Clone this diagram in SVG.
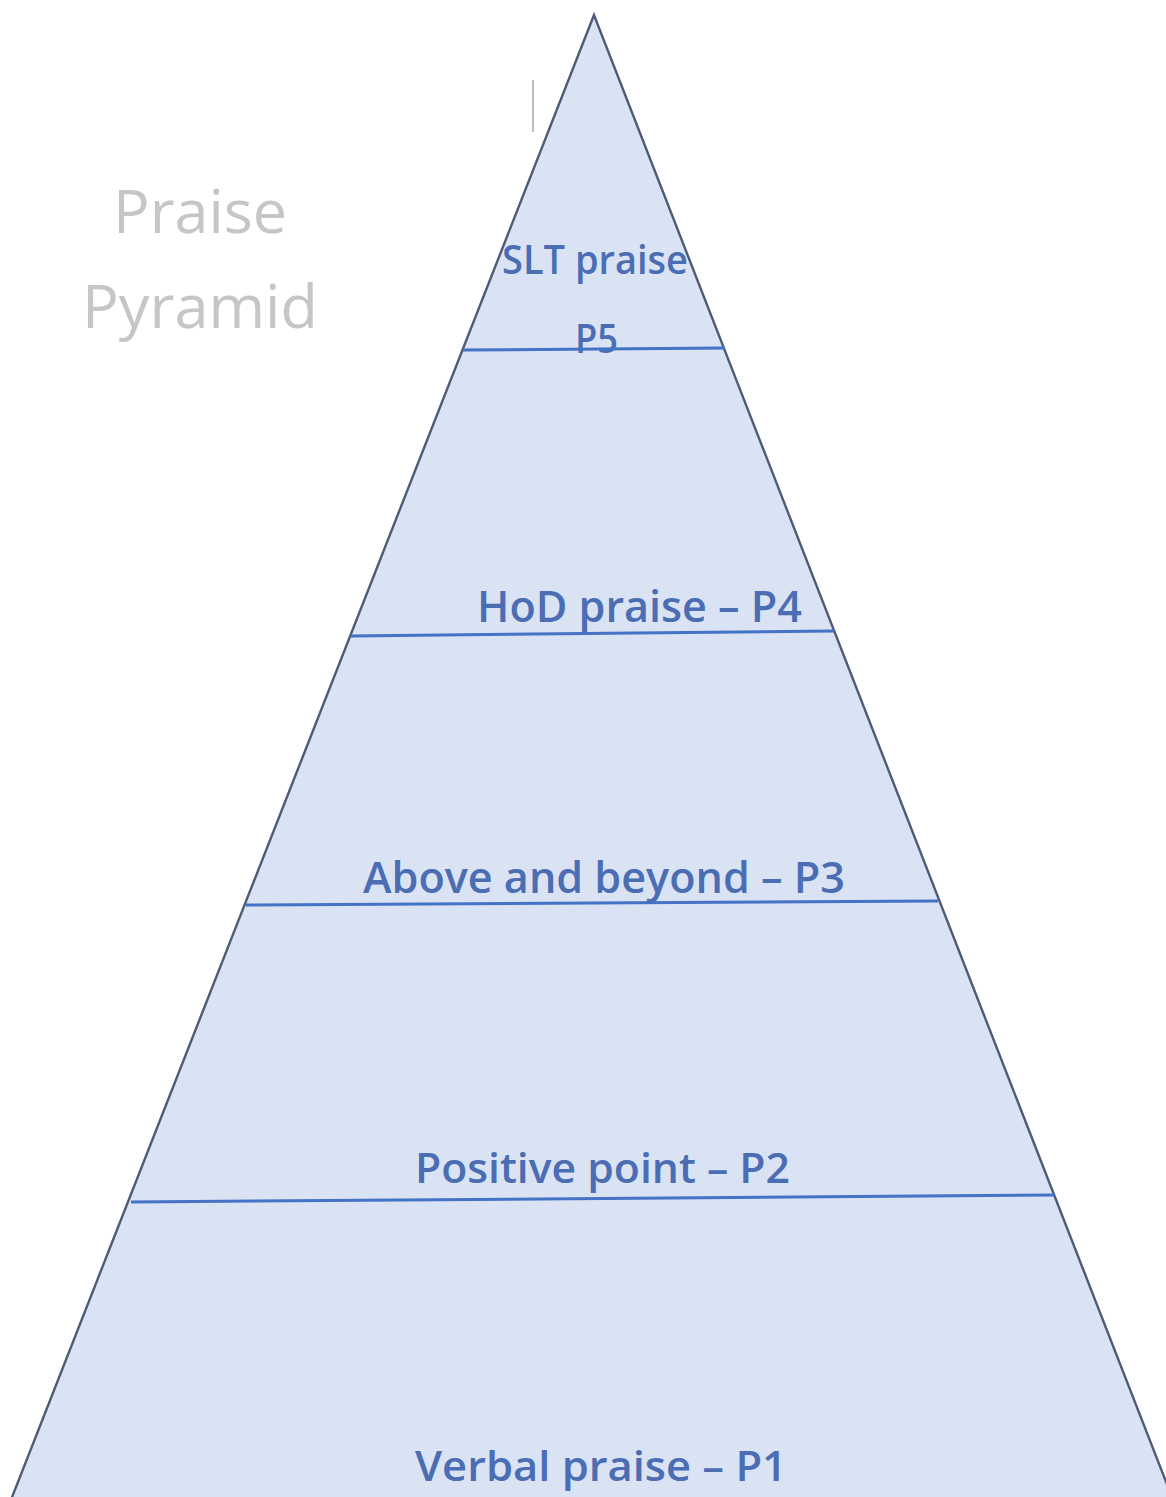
<svg xmlns="http://www.w3.org/2000/svg" width="1166" height="1497" viewBox="0 0 1166 1497">
<style>
.lbl{font-family:"Open Sans","Noto Sans",sans-serif;font-weight:600;fill:#4a6db3;}
.title{font-family:"Open Sans","Noto Sans",sans-serif;font-weight:400;fill:#c6c6c6;font-size:60px;}
.tier{stroke:#4472c4;stroke-width:3;fill:none;}
</style>
<rect width="1166" height="1497" fill="#ffffff"/>
<g id="title">
<text class="title" x="113" y="233" textLength="174" lengthAdjust="spacingAndGlyphs">Praise</text>
<text class="title" x="82" y="328" textLength="236" lengthAdjust="spacingAndGlyphs">Pyramid</text>
</g>
<line x1="533" y1="80" x2="533" y2="132" stroke="#a8a8a8" stroke-width="1.5"/>
<g id="pyramid">
<polygon points="594,15 7,1510 1177,1510" fill="#dae3f3" stroke="#4d5a78" stroke-width="2.4"/>
</g>
<g id="p5">
<text class="lbl" x="502" y="274" font-size="40" textLength="186" lengthAdjust="spacingAndGlyphs">SLT praise</text>
<text class="lbl" x="575" y="353" font-size="40" textLength="43" lengthAdjust="spacingAndGlyphs">P5</text>
</g>
<g id="p4">
<text class="lbl" x="477" y="622" font-size="43" textLength="325" lengthAdjust="spacingAndGlyphs">HoD praise – P4</text>
</g>
<g id="p3">
<text class="lbl" x="363" y="893" font-size="43" textLength="482" lengthAdjust="spacingAndGlyphs">Above and beyond – P3</text>
</g>
<g id="p2">
<text class="lbl" x="415" y="1183" font-size="41" textLength="375" lengthAdjust="spacingAndGlyphs">Positive point – P2</text>
</g>
<g id="p1">
<text class="lbl" x="415" y="1481" font-size="41" textLength="372" lengthAdjust="spacingAndGlyphs">Verbal praise – P1</text>
</g>
<g id="connectors">
<line class="tier" x1="463" y1="350" x2="725" y2="348"/>
<line class="tier" x1="351" y1="636" x2="834" y2="631"/>
<line class="tier" x1="246" y1="905" x2="938" y2="901"/>
<line class="tier" x1="131" y1="1202" x2="1055" y2="1195"/>
</g>
</svg>
